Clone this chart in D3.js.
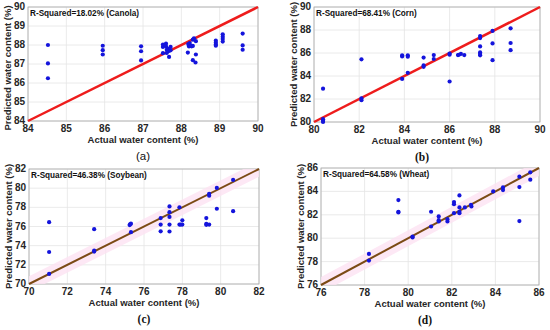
<!DOCTYPE html>
<html>
<head>
<meta charset="utf-8">
<script src="https://cdn.jsdelivr.net/npm/d3@7"></script>
<style>
  body { margin: 0; background: #fff; }
  text { font-family: "Liberation Sans", Arial, sans-serif; }
</style>
</head>
<body>
<svg id="chart" width="550" height="330"></svg>
<script>
// canola (a)
const canolaActual = [84.52,84.52,84.52, 85.95,85.95,85.95, 86.95,86.95,86.95,
  87.52,87.52,87.52,87.6,87.6,87.62,87.65,87.67,87.68,87.72,87.72,87.62,
  88.18,88.2,88.2,88.25,88.3,88.33,88.3,88.38,88.17,88.38,88.3,88.37,88.22,88.27,
  88.9,88.9,88.9,88.9, 89.08,89.08,89.08,89.08, 89.6,89.6,89.6];
const canolaPredicted = [88.0,87.03,86.25, 87.96,87.73,87.5, 87.93,87.67,87.19,
  88.02,87.9,87.57,88.07,87.93,87.75,87.8,87.68,87.37,87.9,87.72,87.58,
  88.05,87.98,87.92,87.95,87.95,88.35,88.28,88.2,87.6,87.5,87.2,87.08,88.1,87.93,
  88.23,88.12,88.03,87.96, 88.56,88.44,88.32,88.18, 88.6,87.98,87.75];

// corn (b)
const cornActual = [80.4,80.4,80.4,80.4, 82.1,82.1,82.1, 83.9,83.9,83.9, 84.15,84.15,84.15,
  84.85,84.85,84.85, 85.3,85.3, 86.0,86.0,86.0, 86.37,86.41,86.5,86.65,
  87.35,87.35,87.35,87.35,87.35,87.35, 87.9,87.9,87.9, 88.7,88.7,88.7];
const cornPredicted = [82.9,80.25,80.1,80.0, 85.45,82.06,81.9, 85.8,85.7,83.75, 85.8,85.68,84.28,
  85.6,84.92,84.8, 85.82,85.48, 85.95,85.85,83.52, 85.82,85.85,85.92,85.82,
  87.47,87.3,86.57,86.05,85.92,85.8, 87.92,86.83,85.38, 88.15,86.87,86.25];

// soybean (c)
const soyActual = [71.05,71.05,71.05, 73.4,73.4,73.4, 75.25,75.27,75.32,75.32,
  76.87,76.87,76.87, 77.33,77.33,77.33,77.33,77.33, 77.85,77.85, 78.0,78.0,77.92,
  79.25,79.25,79.25, 79.4,79.4,79.4, 79.8,79.8, 80.65,80.65];
const soyPredicted = [76.45,73.34,71.05, 75.72,73.48,73.38, 76.15,76.22,76.3,75.41,
  76.88,76.2,75.5, 78.1,77.5,77.0,76.2,75.48, 78.0,76.2, 76.65,76.2,76.2,
  76.88,76.27,76.17, 79.42,79.22,76.2, 80.03,77.85, 80.86,77.6];

// wheat (d)
const wheatActual = [78.2,78.2, 79.55,79.55,79.55, 80.2,80.2, 81.05,81.05, 81.4,81.4,81.4,
  81.8,81.8, 82.1,82.1,82.1, 82.35,82.35,82.35,82.35, 82.6, 82.88,82.9, 83.9,
  84.35,84.35, 85.1,85.1,85.1, 85.6,85.6];
const wheatPredicted = [78.66,78.09, 83.26,82.2,82.26, 80.14,80.06, 82.26,81.0, 81.86,81.54,81.43,
  81.63,81.43, 83.09,82.91,82.14, 83.66,82.63,82.26,82.14, 82.63, 82.85,82.72, 84.0,
  84.34,84.11, 85.26,84.37,81.46, 85.63,85.0];

const panelTitles = ["R-Squared=18.02% (Canola)", "R-Squared=68.41% (Corn)",
  "R-Squared=46.38% (Soybean)", "R-Squared=64.58% (Wheat)"];
const captions = ["(a)", "(b)", "(c)", "(d)"];
const domains = [[84, 90], [80, 90], [70, 82], [76, 86]];
const tickSteps = [1, 2, 2, 2];

const panels = [
  {x: canolaActual, y: canolaPredicted, box: [28, 258, 7, 121], line: "#ee1c1c", band: false, capFont: "sans"},
  {x: cornActual, y: cornPredicted, box: [314, 540, 7, 122], line: "#ee1c1c", band: false, capFont: "serif"},
  {x: soyActual, y: soyPredicted, box: [29, 259, 169, 284], line: "#7b4a14", band: true, capFont: "serif"},
  {x: wheatActual, y: wheatPredicted, box: [321, 539, 168, 285], line: "#7b4a14", band: true, capFont: "serif"}
];

const svg = d3.select("#chart");

panels.forEach(function(p, i) {
  const [l, r, t, b] = p.box;
  const dom = domains[i];
  const xs = d3.scaleLinear().domain(dom).range([l, r]);
  const ys = d3.scaleLinear().domain(dom).range([b, t]);
  const ticks = d3.range(dom[0], dom[1] + 0.001, tickSteps[i]);
  const g = svg.append("g");

  // grid
  g.selectAll(".gx").data(ticks).enter().append("line")
    .attr("x1", d => xs(d)).attr("x2", d => xs(d))
    .attr("y1", t).attr("y2", b)
    .attr("stroke", "#e4e4e4").attr("stroke-width", 0.8);
  g.selectAll(".gy").data(ticks).enter().append("line")
    .attr("x1", l).attr("x2", r)
    .attr("y1", d => ys(d)).attr("y2", d => ys(d))
    .attr("stroke", "#e4e4e4").attr("stroke-width", 0.8);

  // frame
  g.append("rect").attr("x", l).attr("y", t)
    .attr("width", r - l).attr("height", b - t)
    .attr("fill", "none").attr("stroke", "#a8a8a8").attr("stroke-width", 0.8);

  // tick labels
  g.selectAll(".tx").data(ticks).enter().append("text")
    .attr("x", d => xs(d)).attr("y", b + 11)
    .attr("text-anchor", "middle")
    .attr("font-size", 10).attr("font-weight", "bold").attr("fill", "#262626")
    .text(d => d);
  g.selectAll(".ty").data(ticks).enter().append("text")
    .attr("x", l - 3).attr("y", d => ys(d) + 3)
    .attr("text-anchor", "end")
    .attr("font-size", 10).attr("font-weight", "bold").attr("fill", "#262626")
    .text(d => d);

  // 1:1 line
  const clip = "clip" + i;
  svg.append("clipPath").attr("id", clip).append("rect")
    .attr("x", l).attr("y", t).attr("width", r - l).attr("height", b - t);
  if (p.band) {
    g.append("line").attr("clip-path", "url(#" + clip + ")")
      .attr("x1", xs(dom[0])).attr("y1", ys(dom[0]))
      .attr("x2", xs(dom[1])).attr("y2", ys(dom[1]))
      .attr("stroke", "#fde3f3").attr("stroke-width", 14).attr("opacity", 0.8);
  }
  g.append("line")
    .attr("x1", xs(dom[0])).attr("y1", ys(dom[0]))
    .attr("x2", xs(dom[1])).attr("y2", ys(dom[1]))
    .attr("stroke", p.line).attr("stroke-width", p.band ? 2 : 2.5);

  // points
  g.selectAll(".pt").data(p.x).enter().append("circle")
    .attr("cx", d => xs(d)).attr("cy", (d, j) => ys(p.y[j]))
    .attr("r", 2.1).attr("fill", "#1414dc");

  // r-squared label
  g.append("text").attr("x", l + 2).attr("y", t + 9)
    .attr("font-size", 8.2).attr("font-weight", "bold").attr("fill", "#111")
    .text(panelTitles[i]);

  // axis titles
  g.append("text").attr("x", (l + r) / 2).attr("y", b + 22)
    .attr("text-anchor", "middle")
    .attr("font-size", 9.5).attr("font-weight", "bold").attr("fill", "#262626")
    .text("Actual water content (%)");
  g.append("text")
    .attr("transform", "translate(" + (l - 17) + "," + ((t + b) / 2 + (i === 0 ? 4 : 0)) + ")rotate(-90)")
    .attr("text-anchor", "middle")
    .attr("font-size", 9.5).attr("font-weight", "bold").attr("fill", "#262626")
    .text("Predicted water content (%)");

  // caption
  g.append("text").attr("x", (l + r) / 2 - (i % 2 ? 5 : 0)).attr("y", b + 39)
    .attr("text-anchor", "middle")
    .attr("font-size", 11.5)
    .style("font-family", p.capFont === "serif" ? "'Liberation Serif', serif" : "'Liberation Sans', sans-serif")
    .attr("font-weight", p.capFont === "serif" ? "bold" : "normal")
    .attr("fill", "#111")
    .text(captions[i]);
});
</script>
</body>
</html>
